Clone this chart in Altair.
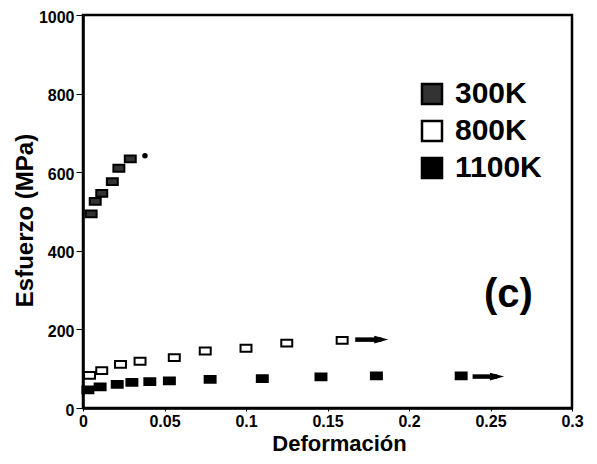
import altair as alt
import pandas as pd

# ---- data ----
strain_300 = [0.005, 0.0075, 0.0115, 0.018, 0.022, 0.029]
stress_300 = [494, 526, 546, 576, 610, 634]
star_strain = [0.038]
star_stress = [642]

strain_800 = [0.004, 0.0115, 0.023, 0.035, 0.056, 0.075, 0.100, 0.125, 0.159]
stress_800 = [83, 95, 111, 119, 128, 145, 152, 165, 172]

strain_1100 = [0.003, 0.0105, 0.021, 0.030, 0.041, 0.053, 0.078, 0.110, 0.146, 0.180, 0.232]
stress_1100 = [46, 54, 60, 65, 67, 69, 73, 75, 79, 82, 82]

arrow_series = ["800K", "1100K"]
arrow_start = [0.167, 0.239]
arrow_head = [0.183, 0.254]
arrow_y = [174, 80]

series = ["300K", "800K", "1100K"]
x_ticks = [0, 0.05, 0.1, 0.15, 0.2, 0.25, 0.3]
y_ticks = [0, 200, 400, 600, 800, 1000]

rows = []
for s, xs, ys in [("300K", strain_300, stress_300), ("800K", strain_800, stress_800),
                  ("1100K", strain_1100, stress_1100)]:
    for a, b in zip(xs, ys):
        rows.append({"series": s, "strain": a, "stress": b})
df = pd.DataFrame(rows)
star_df = pd.DataFrame({"strain": star_strain, "stress": star_stress})
arrows = pd.DataFrame({"series": arrow_series, "x1": arrow_start, "x2": arrow_head, "y": arrow_y})
label_df = pd.DataFrame({"strain": [0.261], "stress": [287], "text": ["(c)"]})

FONT = "Liberation Sans"
xscale = alt.Scale(domain=[0, 0.3], nice=False)
yscale = alt.Scale(domain=[0, 1000], nice=False)

xaxis = alt.Axis(values=x_ticks, format="~g", title="Deformación", grid=False, labelFont=FONT,
                 labelFontSize=16, labelFontWeight="bold", labelColor="black",
                 titleFont=FONT, titleFontSize=22, titleFontWeight="bold", titleColor="black",
                 tickColor="black", tickSize=3, domainColor="black", domainWidth=2.5,
                 labelPadding=2, titlePadding=4, titleX=256, labelFlush=False)
yaxis = alt.Axis(values=y_ticks, format="d", title="Esfuerzo (MPa)", grid=False, labelFont=FONT,
                 labelFontSize=16, labelFontWeight="bold", labelColor="black",
                 titleFont=FONT, titleFontSize=24, titleFontWeight="bold", titleColor="black",
                 tickColor="black", tickSize=7, domainColor="black", domainWidth=2.5,
                 labelPadding=2, labelOffset=2, titlePadding=1, titleY=205, labelFlush=False)

rect_path = "M-1,-0.62H1V0.62H-1Z"
head_path = "M-1,-0.55L1,0L-1,0.55Z"

points = alt.Chart(df).mark_point(shape=rect_path, size=120, filled=False, strokeWidth=2,
                                   stroke="black", opacity=1).encode(
    x=alt.X("strain:Q", scale=xscale, axis=xaxis),
    y=alt.Y("stress:Q", scale=yscale, axis=yaxis),
    fill=alt.Fill("series:N", scale=alt.Scale(domain=series, range=["#333333", "white", "black"]),
                  legend=alt.Legend(title=None, orient="none", legendX=334, legendY=64,
                                    symbolType="square", symbolSize=400, symbolStrokeColor="black",
                                    symbolStrokeWidth=2.5, labelFont=FONT, labelFontSize=30,
                                    labelFontWeight="bold", labelColor="black", rowPadding=7,
                                    labelOffset=8)),
)

star = alt.Chart(star_df).mark_point(shape="circle", size=30, filled=True, color="black",
                                     opacity=1).encode(x=alt.X("strain:Q", scale=xscale),
                                                       y=alt.Y("stress:Q", scale=yscale))

shafts = alt.Chart(arrows).mark_rule(strokeWidth=4.5, color="black").encode(
    x=alt.X("x1:Q", scale=xscale), x2="x2:Q", y=alt.Y("y:Q", scale=yscale))
heads = alt.Chart(arrows).mark_point(shape=head_path, size=200, filled=True,
                                     color="black", opacity=1).encode(
    x=alt.X("x2:Q", scale=xscale), y=alt.Y("y:Q", scale=yscale))

label = alt.Chart(label_df).mark_text(font=FONT, fontSize=40, fontWeight="bold",
                                      color="black", baseline="middle").encode(
    x=alt.X("strain:Q", scale=xscale), y=alt.Y("stress:Q", scale=yscale), text="text:N")

chart = alt.layer(points, star, shafts, heads, label).properties(
    width=489, height=393, autosize="none",
    padding={"left": 75, "top": 7, "right": 17, "bottom": 48},
    background="white",
).configure_view(stroke="black", strokeWidth=2.5)

chart.save("out.html", embed_options={"renderer": "svg", "actions": False})
